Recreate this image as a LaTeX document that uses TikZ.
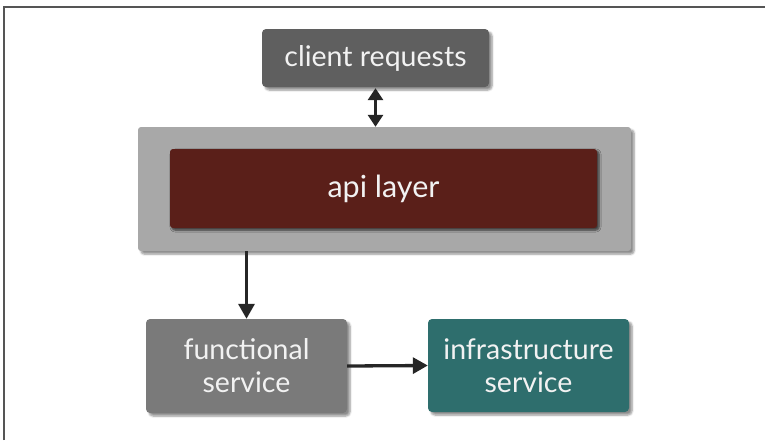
\documentclass[tikz,border=0pt]{standalone}
\usepackage{fontspec}
\setmainfont{Lato}
\usetikzlibrary{shadows.blur,arrows.meta}
\definecolor{clientgray}{HTML}{5F5F5F}
\definecolor{outergray}{HTML}{A8A8A8}
\definecolor{apired}{HTML}{5A1F19}
\definecolor{funcgray}{HTML}{7A7A7A}
\definecolor{infrateal}{HTML}{2E6E6D}
\definecolor{framegray}{HTML}{555555}
\tikzset{
  box/.style={rounded corners=4pt, inner sep=0pt, text=white!95!black, align=center,
    font=\fontsize{28.5}{33}\selectfont,
    blur shadow={shadow xshift=3pt, shadow yshift=-3pt, shadow blur steps=6, shadow opacity=45}},
  tip/.style={Triangle[length=15pt,width=16pt]},
  conn/.style={line width=3.3pt, draw=black!85, -{Triangle[length=15pt,width=16pt]}},
}
\begin{document}
\begin{tikzpicture}[x=1pt,y=-1pt]
\useasboundingbox (0,0) rectangle (765,440);
\draw[framegray, line width=1.5pt] (4,440) -- (4,7) -- (765,7);
% outer api container
\node[box, fill=outergray, rounded corners=3pt, minimum width=493pt, minimum height=124pt] (outer) at (384.5,189) {};
\node[box, fill=apired, rounded corners=3pt, minimum width=427pt, minimum height=79pt, font=\fontsize{30.5}{36}\selectfont,
  blur shadow={shadow xshift=2pt, shadow yshift=-2pt, shadow opacity=40}] (api) at (383.5,188.5) {api layer};
\node[box, fill=clientgray, minimum width=227pt, minimum height=58pt] (client) at (375.5,58) {client requests};
\node[box, fill=funcgray, minimum width=201pt, minimum height=94pt] (func) at (246.5,366) {functional\\service};
\node[box, fill=infrateal, minimum width=201pt, minimum height=93pt] (infra) at (528.5,365.5) {infrastructure\\service};
\draw[conn, {Triangle[length=12pt,width=15pt]}-{Triangle[length=12pt,width=15pt]}, line width=3pt] (client.south) ++(0,1) coordinate (c1) -- (c1 |- outer.north);
\draw[conn] (outer.south -| func.north) -- (func.north);
\draw[conn] (func.east) -- (infra.west);
\end{tikzpicture}
\end{document}
